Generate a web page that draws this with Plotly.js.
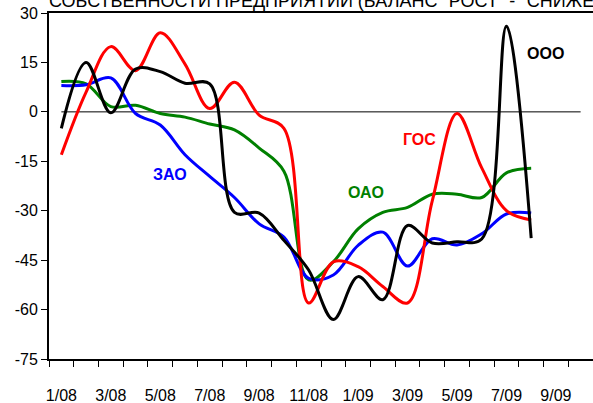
<!DOCTYPE html>
<html><head><meta charset="utf-8">
<script src="https://cdn.plot.ly/plotly-3.0.1.min.js"></script>
<style>html,body{margin:0;padding:0;background:#fff;}#chart{width:593px;height:403px;}</style>
</head><body><div id="chart"></div>
<script>
const months = ['1/08','2/08','3/08','4/08','5/08','6/08','7/08','8/08','9/08','10/08','11/08','12/08',
                '1/09','2/09','3/09','4/09','5/09','6/09','7/09','8/09','9/09','10/09'];
const gos = [-13, 6, 19.8, 12.5, 24, 14.5, 1, 9, -1, -5, -58, -45.5, -47, -53, -58, -27, -0.5, -17, -30, -32.8];
const zao = [8, 8.2, 10.3, -0.5, -4, -13, -19.6, -26, -34, -38, -50.5, -49.5, -40.5, -36.5, -46.8, -38.5, -40.4, -37, -31, -30.7];
const oao = [9.2, 8.5, 1.6, 2, -0.5, -1.6, -3.7, -5.5, -11, -18, -51, -45.5, -35.5, -30.5, -29, -25, -25, -26, -18.5, -17.1];
const ooo = [-5, 15, -0.3, 13, 12.2, 8.7, 8.5, -30.5, -30.7, -39, -48, -63, -50, -57, -34.5, -39.8, -39.4, -38.6, 26, -38.3];
const zeroRef = [0,0,0,0,0,0,0,0,0,0,0,0,0,0,0,0,0,0,0,0,0,0];
const yTicks = [30, 15, 0, -15, -30, -45, -60, -75];
const seriesNames = ['ГОС', 'ЗАО', 'ОАО', 'ООО'];
const titleText = 'СОБСТВЕННОСТИ ПРЕДПРИЯТИЙ (БАЛАНС "РОСТ" - "СНИЖЕНИЕ")';

const monthsOf = a => months.slice(0, a.length);
// every 2nd month is labelled; an empty first line drops the label to where the original sits
const tickText = months.map((m, k) => k % 2 === 0 ? '\u00a0<br>' + m : '');

function line(y, color, name, w) {
  return {x: monthsOf(y), y: y, type: 'scatter', mode: 'lines', name: name,
          line: {color: color, width: w, shape: 'spline', smoothing: 1}, hoverinfo: 'skip'};
}
const traces = [
  {x: monthsOf(zeroRef), y: zeroRef, type: 'scatter', mode: 'lines', line: {color: '#000', width: 1}, hoverinfo: 'skip'},
  line(oao, '#008000', seriesNames[2], 3),
  line(zao, '#0000FF', seriesNames[1], 3),
  line(gos, '#FF0000', seriesNames[0], 3),
  line(ooo, '#000000', seriesNames[3], 3)
];
const F = 'Arial, "Liberation Sans", sans-serif';
const layout = {
  width: 593, height: 403,
  margin: {l: 49, r: 0, t: 13, b: 44, pad: 0},
  paper_bgcolor: '#fff', plot_bgcolor: '#fff',
  showlegend: false,
  font: {family: F, size: 16, color: '#000'},
  xaxis: {type: 'category', categoryorder: 'array', categoryarray: months,
          range: [-0.5, months.length - 0.5], tickmode: 'array', tickvals: months, ticktext: tickText,
          tickson: 'boundaries', ticks: 'outside', ticklen: 6, tickwidth: 1, tickcolor: '#000', tickangle: 0,
          showgrid: false, zeroline: false, showline: true, mirror: true,
          linecolor: '#000', linewidth: 2,
          tickfont: {family: F, size: 16, color: '#000'}},
  yaxis: {range: [-75, 30], tickmode: 'array', tickvals: yTicks, ticktext: yTicks.map(String),
          ticks: 'outside', ticklen: 6, tickwidth: 1, tickcolor: '#000',
          showgrid: false, zeroline: false, showline: true, linecolor: '#000', linewidth: 2,
          tickfont: {family: F, size: 16, color: '#000'}},
  annotations: [
    {text: titleText, xref: 'paper', yref: 'paper', x: -0.004, y: 1.0, xanchor: 'left', yanchor: 'bottom',
     showarrow: false, font: {family: F, size: 18, color: '#000'}},
    {text: '<b>ЗАО</b>', x: 4.38, y: -19.1, showarrow: false, font: {family: F, size: 16, color: '#0000FF'}},
    {text: '<b>ОАО</b>', x: 12.3, y: -24.5, showarrow: false, font: {family: F, size: 16, color: '#008000'}},
    {text: '<b>ГОС</b>', x: 14.48, y: -8.5, showarrow: false, font: {family: F, size: 16, color: '#FF0000'}},
    {text: '<b>ООО</b>', x: 19.57, y: 17.6, showarrow: false, font: {family: F, size: 16, color: '#000'}}
  ]
};
Plotly.newPlot('chart', traces, layout, {staticPlot: true, displayModeBar: false});
</script></body></html>
